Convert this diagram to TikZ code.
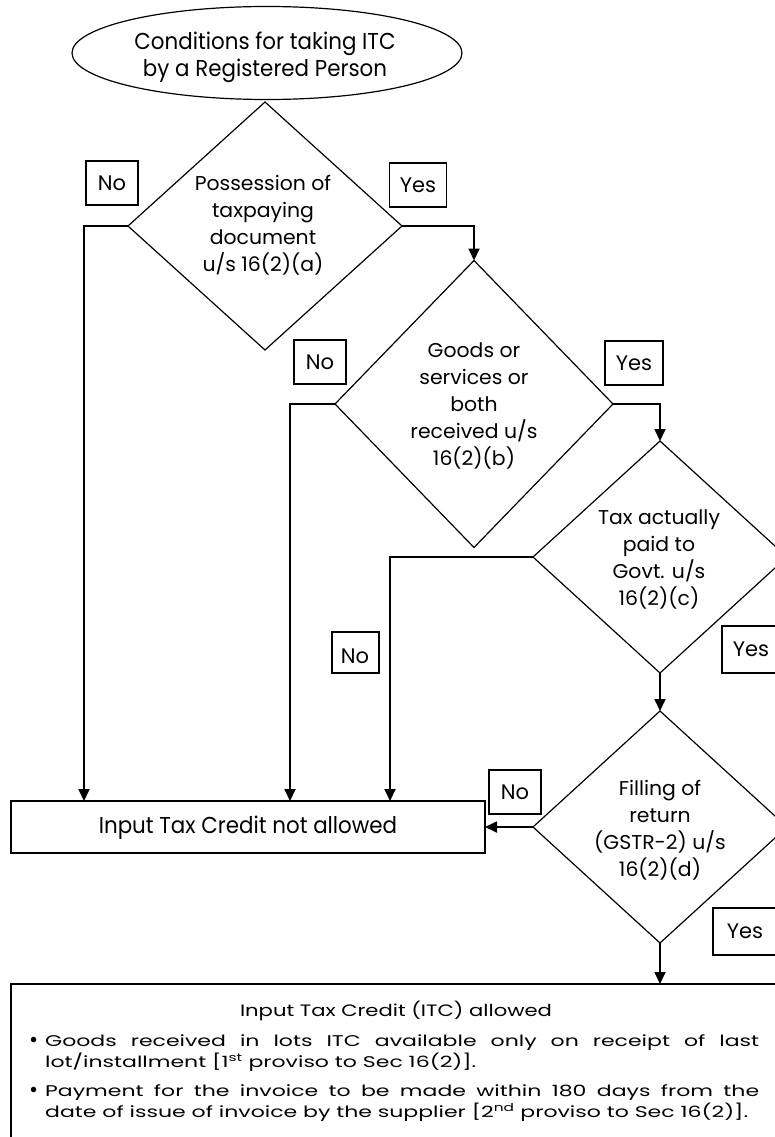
\documentclass[tikz,border=0pt]{standalone}
\usepackage{fontspec}
\setmainfont{Poppins}
\newfontfamily\efam[FakeStretch=0.93]{Poppins}
\newfontfamily\dfam[FakeStretch=1.02]{Poppins}
\newfontfamily\tfam[FakeStretch=1.28]{Poppins}
\newfontfamily\bfam[FakeStretch=1.42]{Poppins}
\newcommand{\bigdot}{\raisebox{-1.2pt}{\scalebox{1.0}[1.45]{\textbullet}}}
\usetikzlibrary{shapes.geometric,arrows.meta}
\begin{document}
\begin{tikzpicture}[x=1pt,y=-1pt,
  dia/.style={draw,shape=diamond,line width=1.2pt,inner sep=0pt,outer sep=0pt},
  dtext/.style={align=center,font=\dfam\fontsize{20}{27}\selectfont,inner sep=0pt},
  etext/.style={align=center,font=\efam\fontsize{23}{27}\selectfont,inner sep=0pt},
  lbl/.style={draw,line width=1.2pt,inner sep=0pt,minimum width=#1,minimum height=44pt,font=\fontsize{21}{24}\selectfont},
  lbl/.default=52pt,
  arr/.style={line width=1.8pt,-{Triangle[length=12pt,width=11pt]}},
  box/.style={draw,line width=1.4pt,inner sep=0pt,outer sep=0pt}]
\useasboundingbox (0,0) rectangle (775,1137);
\clip (0,0) rectangle (775,1137);
% start
\node[draw,ellipse,line width=1.2pt,minimum width=390pt,minimum height=93pt,inner sep=0pt,outer sep=0pt] (e0) at (267,53) {};
\node[etext] (e0t) at (265,57) {Conditions for taking ITC\\by a Registered Person};
% diamonds
\node[dia,minimum width=274pt,minimum height=248pt] (d1) at (265,226) {};
\node[dtext] (d1t) at (263,225) {Possession of\\taxpaying\\document\\u/s 16(2)(a)};
\node[dia,minimum width=278pt,minimum height=287pt] (d2) at (474,404) {};
\node[dtext] (d2t) at (474,406) {Goods or\\services or\\both\\received u/s\\16(2)(b)};
\node[dia,minimum width=254pt,minimum height=232pt] (d3) at (660,557) {};
\node[dtext] (d3t) at (659,559) {Tax actually\\paid to\\Govt. u/s\\16(2)(c)};
\node[dia,minimum width=254pt,minimum height=232pt] (d4) at (660,827) {};
\node[dtext] (d4t) at (660,830) {Filling of\\return\\(GSTR-2) u/s\\16(2)(d)};
% result boxes
\node[box,minimum width=474pt,minimum height=52pt] (na) at (248,827) {};
\node[etext] (nat) at (248,828) {Input Tax Credit not allowed};
\node[box,minimum width=770pt,minimum height=170pt,anchor=north west] (ok) at (11,984) {};
\node[font=\tfam\fontsize{16.5}{21}\selectfont,inner sep=0pt] (okt) at (396,1011) {Input Tax Credit (ITC) allowed};
\node[font=\bfam\fontsize{15.5}{21}\selectfont,inner sep=0pt,text width=730pt,align=justify,anchor=north west] (okb) at (29,1034)
 {\hangindent=16pt\hangafter=1\makebox[16pt][l]{\bigdot}Goods received in lots ITC available only on receipt of last\linebreak lot/installment [1\textsuperscript{st} proviso to Sec 16(2)].\par\vspace{8pt}%
  \hangindent=16pt\hangafter=1\makebox[16pt][l]{\bigdot}Payment for the invoice to be made within 180 days from the\linebreak date of issue of invoice by the supplier [2\textsuperscript{nd} proviso to Sec 16(2)].\par};
% labels
\node[lbl] (n1) at (112,183) {No};
\node[lbl=57pt] (y1) at (418,185) {Yes};
\node[lbl] (n2) at (320,362) {No};
\node[lbl=58pt] (y2) at (634,363) {Yes};
\node[lbl=47pt,minimum height=41pt] (n3) at (355.5,652.5) {};
\node[font=\fontsize{21}{24}\selectfont,inner sep=0pt] (n3t) at (355,656) {No};
\node[lbl=58pt,minimum height=47pt] (y3) at (751,649.5) {Yes};
\node[lbl] (n4) at (515,792) {No};
\node[lbl=64pt,minimum height=47pt] (y4) at (745,931.5) {Yes};
% connectors
\coordinate (c1) at (84,0);
\draw[arr] (d1.west) -- (d1.west -| c1) -- (na.north -| c1);
\draw[arr] (d1.east) -| (d2.north);
\coordinate (c2) at (290,0);
\draw[arr] (d2.west) -- (d2.west -| c2) -- (na.north -| c2);
\draw[arr] (d2.east) -| (d3.north);
\coordinate (c3) at (390,0);
\draw[arr] (d3.west) -- (d3.west -| c3) -- (na.north -| c3);
\draw[arr] (d3.south) -- (d4.north);
\draw[arr] (d4.west) -- (na.east);
\draw[arr] (d4.south) -- (d4.south |- ok.north);
\end{tikzpicture}
\end{document}
